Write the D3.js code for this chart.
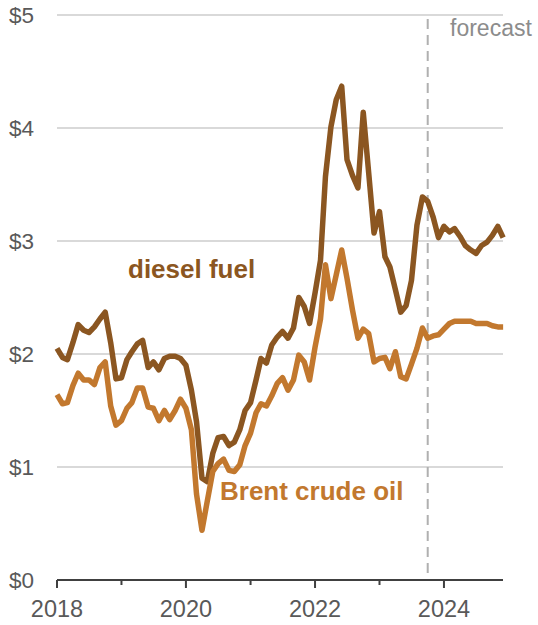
<!DOCTYPE html>
<html>
<head>
<meta charset="utf-8">
<script src="https://cdn.jsdelivr.net/npm/d3@7"></script>
<style>
  body { margin: 0; background: #fff; }
  svg text { font-family: "Liberation Sans", Arial, sans-serif; }
</style>
</head>
<body>
<svg id="chart" width="538" height="625"></svg>
<script>
// ----------------------------
// Data (dollars per gallon, monthly Jan 2018 - Dec 2024)
// ----------------------------
const startYear = 2018;
const forecastStart = "2023-10";

const diesel = [
    2.05, 1.97, 1.95, 2.10, 2.26, 2.21, 2.19, 2.24, 2.31, 2.37, 2.10, 1.78,
    1.79, 1.95, 2.02, 2.09, 2.12, 1.88, 1.93, 1.86, 1.96, 1.98, 1.98, 1.96,
    1.90, 1.68, 1.40, 0.90, 0.87, 1.12, 1.26, 1.27, 1.19, 1.22, 1.33, 1.50,
    1.57, 1.77, 1.96, 1.92, 2.08, 2.15, 2.20, 2.14, 2.23, 2.50, 2.42, 2.27,
    2.54, 2.83, 3.57, 4.01, 4.25, 4.37, 3.72, 3.58, 3.47, 4.14, 3.60, 3.07,
    3.26, 2.86, 2.77, 2.57, 2.37, 2.43, 2.65, 3.14, 3.39, 3.35, 3.21, 3.03,
    3.13, 3.08, 3.11, 3.04, 2.96, 2.92, 2.89, 2.96, 2.99, 3.05, 3.13, 3.03
];

const brent = [
    1.64, 1.56, 1.57, 1.72, 1.83, 1.77, 1.77, 1.73, 1.88, 1.93, 1.54, 1.37,
    1.41, 1.52, 1.57, 1.70, 1.70, 1.53, 1.52, 1.41, 1.50, 1.42, 1.50, 1.60,
    1.52, 1.33, 0.76, 0.44, 0.70, 0.96, 1.03, 1.07, 0.97, 0.96, 1.02, 1.19,
    1.30, 1.48, 1.56, 1.54, 1.63, 1.74, 1.79, 1.68, 1.77, 1.99, 1.93, 1.77,
    2.06, 2.31, 2.79, 2.49, 2.70, 2.92, 2.67, 2.39, 2.14, 2.22, 2.18, 1.93,
    1.96, 1.97, 1.87, 2.02, 1.80, 1.78, 1.91, 2.05, 2.23, 2.14, 2.16, 2.17,
    2.22, 2.27, 2.29, 2.29, 2.29, 2.29, 2.27, 2.27, 2.27, 2.25, 2.24, 2.24
];

const yTicks = [0, 1, 2, 3, 4, 5];
const xLabelYears = [2018, 2020, 2022, 2024];
const xMinorYears = [2019, 2021, 2023];

const seriesNames = ["diesel fuel", "Brent crude oil"];
const colors = ["#8b5621", "#c2782e"];

// ----------------------------
// Layout
// ----------------------------
const svg = d3.select("#chart");
const plotLeft = 57, plotRight = 503, plotTop = 15, plotBottom = 580;

const dates = diesel.map((d, i) => new Date(startYear, i, 1));

const x = d3.scaleTime()
    .domain([new Date(2018, 0, 1), new Date(2024, 11, 1)])
    .range([plotLeft, plotLeft + 83 * 64.5 / 12]);

const y = d3.scaleLinear()
    .domain([0, 5])
    .range([plotBottom, plotTop]);

// Gridlines
svg.append("g")
    .selectAll("line")
    .data(yTicks.filter(d => d > 0))
    .join("line")
    .attr("x1", plotLeft)
    .attr("x2", plotRight)
    .attr("y1", d => y(d))
    .attr("y2", d => y(d))
    .attr("stroke", "#d9d9d9")
    .attr("stroke-width", 2);

// Y labels
svg.append("g")
    .selectAll("text")
    .data(yTicks)
    .join("text")
    .attr("x", 34)
    .attr("y", d => y(d) + 8)
    .attr("text-anchor", "end")
    .attr("font-size", 22.5)
    .attr("fill", "#595959")
    .text(d => "$" + d);

// Forecast marker
const fx = x(d3.timeParse("%Y-%m")(forecastStart));
svg.append("line")
    .attr("x1", fx).attr("x2", fx)
    .attr("y1", 19).attr("y2", plotBottom)
    .attr("stroke", "#b0b0b0")
    .attr("stroke-width", 2)
    .attr("stroke-dasharray", "10,6");

svg.append("text")
    .attr("x", 450)
    .attr("y", 36)
    .attr("font-size", 23)
    .attr("fill", "#8c8c8c")
    .text("forecast");

// X axis
const xAxis = svg.append("g");
xAxis.append("line")
    .attr("x1", plotLeft).attr("x2", plotRight)
    .attr("y1", plotBottom).attr("y2", plotBottom)
    .attr("stroke", "#404040")
    .attr("stroke-width", 2);

xAxis.selectAll(".major")
    .data(xLabelYears)
    .join("line")
    .attr("class", "major")
    .attr("x1", d => x(new Date(d, 0, 1)))
    .attr("x2", d => x(new Date(d, 0, 1)))
    .attr("y1", plotBottom)
    .attr("y2", plotBottom + 8)
    .attr("stroke", "#404040")
    .attr("stroke-width", 2);

xAxis.selectAll(".minor")
    .data(xMinorYears)
    .join("line")
    .attr("class", "minor")
    .attr("x1", d => x(new Date(d, 0, 1)))
    .attr("x2", d => x(new Date(d, 0, 1)))
    .attr("y1", plotBottom)
    .attr("y2", plotBottom + 5)
    .attr("stroke", "#404040")
    .attr("stroke-width", 2);

xAxis.selectAll("text")
    .data(xLabelYears)
    .join("text")
    .attr("x", d => x(new Date(d, 0, 1)))
    .attr("y", 617)
    .attr("text-anchor", "middle")
    .attr("font-size", 23.5)
    .attr("fill", "#595959")
    .text(d => d);

// Lines
const line = d3.line()
    .x((d, i) => x(dates[i]))
    .y(d => y(d))
    .curve(d3.curveLinear);

[diesel, brent].forEach((series, k) => {
    svg.append("path")
        .datum(series)
        .attr("d", line)
        .attr("fill", "none")
        .attr("stroke", colors[k])
        .attr("stroke-width", 5.5)
        .attr("stroke-linejoin", "round");
});

// Series labels
svg.append("text")
    .attr("x", 128).attr("y", 278)
    .attr("font-size", 26)
    .attr("font-weight", "bold")
    .attr("fill", colors[0])
    .text(seriesNames[0]);

svg.append("text")
    .attr("x", 220).attr("y", 500)
    .attr("font-size", 26)
    .attr("font-weight", "bold")
    .attr("fill", colors[1])
    .text(seriesNames[1]);
</script>
</body>
</html>
